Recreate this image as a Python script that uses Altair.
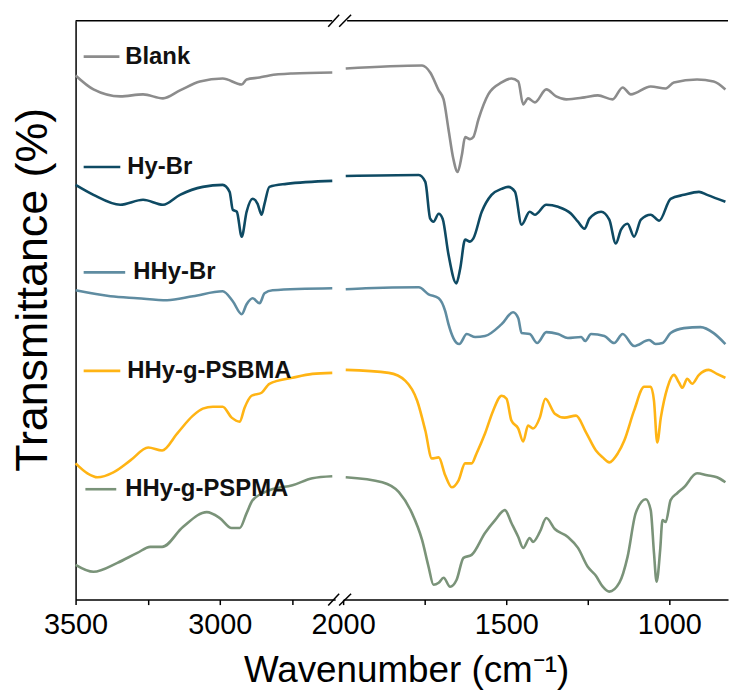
import altair as alt
import pandas as pd

# ---------------- data (wavenumber in cm-1, transmittance in offset arbitrary units) -------------
names = ["Blank", "Hy-Br", "HHy-Br", "HHy-g-PSBMA", "HHy-g-PSPMA"]
colors = ["#8c8c8c", "#0e4a63", "#5f8ca1", "#ffb414", "#7a9379"]

# high wavenumber region (3500 - 2600)
blank_hi_wn = [3500, 3438, 3345, 3266, 3197, 3138, 3069, 2990, 2924, 2907, 2862, 2828, 2748, 2610]
blank_hi_t = [527, 513, 506, 508, 504, 512, 521, 524, 518, 523, 525, 527, 529, 530]

hybr_hi_wn = [3500, 3438, 3345, 3266, 3197, 3138, 3059, 2990, 2966, 2955, 2941, 2924, 2907, 2886,
              2869, 2855, 2845, 2828, 2769, 2610]
hybr_hi_t = [417, 407, 397, 402, 397, 407, 415, 417, 410, 392, 390, 365, 390, 403, 398, 387, 398,
             415, 418, 421]

hhybr_hi_wn = [3500, 3379, 3286, 3183, 3093, 2990, 2955, 2924, 2907, 2886, 2862, 2845, 2817, 2610]
hhybr_hi_t = [311, 305, 303, 301, 305, 310, 300, 287, 297, 303, 298, 308, 311, 313]

psbma_hi_wn = [3500, 3459, 3424, 3369, 3310, 3248, 3200, 3148, 3093, 3059, 3024, 2990, 2959, 2931,
               2914, 2890, 2855, 2828, 2748, 2679, 2610]
psbma_hi_t = [137, 127, 123, 128, 140, 153, 150, 167, 185, 192, 194, 194, 183, 179, 193, 205, 208,
              217, 223, 227, 228]

pspma_hi_wn = [3500, 3438, 3355, 3286, 3241, 3200, 3128, 3045, 3000, 2959, 2931, 2907, 2886, 2828,
               2748, 2679, 2610]
pspma_hi_t = [35, 28, 37, 47, 53, 53, 73, 88, 82, 72, 72, 87, 100, 110, 115, 122, 124]

# low wavenumber region (2000 - 820)
blank_lo_wn = [1992, 1758, 1733, 1707, 1692, 1677, 1662, 1649, 1636, 1626, 1611, 1601, 1585, 1555,
               1514, 1484, 1463, 1448, 1433, 1412, 1377, 1347, 1316, 1260, 1219, 1174, 1143, 1118,
               1057, 1011, 986, 915, 864, 828]
blank_lo_t = [534, 537, 530, 512, 503, 473, 443, 430, 447, 465, 463, 465, 483, 508, 520, 524, 521,
              498, 504, 500, 513, 506, 503, 505, 507, 503, 515, 508, 516, 514, 520, 523, 521, 513]

hybr_lo_wn = [1992, 1768, 1748, 1733, 1723, 1707, 1695, 1677, 1653, 1641, 1626, 1611, 1601, 1575,
              1545, 1514, 1494, 1473, 1453, 1428, 1412, 1377, 1341, 1301, 1280, 1260, 1245, 1209,
              1184, 1164, 1148, 1128, 1108, 1087, 1057, 1031, 996, 955, 909, 884, 828]
hybr_lo_t = [426, 427, 420, 383, 380, 388, 383, 347, 318, 333, 362, 360, 363, 390, 407, 413, 415,
             410, 377, 390, 387, 397, 395, 388, 380, 373, 383, 390, 382, 358, 372, 378, 365, 382,
             387, 381, 403, 407, 410, 407, 400]

hhybr_lo_wn = [1992, 1931, 1768, 1738, 1707, 1687, 1677, 1662, 1644, 1621, 1595, 1565, 1514, 1479,
               1463, 1453, 1428, 1405, 1377, 1341, 1311, 1270, 1258, 1240, 1199, 1169, 1143, 1108,
               1062, 1042, 1021, 996, 955, 904, 864, 828]
hhybr_lo_t = [312, 313, 314, 307, 303, 290, 277, 263, 257, 267, 264, 265, 277, 289, 283, 268, 267,
              258, 269, 267, 263, 264, 260, 267, 265, 258, 267, 255, 261, 257, 258, 268, 273, 274,
              268, 257]

psbma_lo_wn = [1992, 1860, 1809, 1773, 1748, 1728, 1707, 1687, 1667, 1646, 1626, 1606, 1591, 1565,
               1540, 1514, 1499, 1484, 1463, 1448, 1433, 1418, 1397, 1380, 1351, 1321, 1286, 1255,
               1225, 1204, 1184, 1158, 1138, 1108, 1077, 1057, 1047, 1037, 1026, 1006, 986, 970,
               960, 945, 930, 909, 879, 854, 828]
psbma_lo_t = [231, 228, 220, 200, 170, 142, 143, 125, 113, 120, 137, 137, 147, 167, 190, 205, 202,
              180, 172, 159, 175, 172, 183, 202, 187, 183, 185, 168, 150, 143, 138, 147, 160, 190,
              214, 214, 200, 158, 183, 213, 226, 218, 213, 222, 217, 226, 231, 227, 223]

pspma_lo_wn = [1992, 1880, 1829, 1789, 1758, 1738, 1723, 1707, 1692, 1672, 1652, 1631, 1606, 1565,
               1534, 1504, 1484, 1463, 1448, 1428, 1418, 1397, 1377, 1351, 1311, 1280, 1250, 1225,
               1204, 1184, 1153, 1128, 1103, 1072, 1057, 1047, 1039, 1028, 1021, 1011, 996, 976,
               955, 915, 884, 854, 828]
pspma_lo_t = [123, 118, 108, 87, 60, 33, 15, 17, 22, 13, 20, 42, 45, 67, 80, 90, 77, 63, 52, 62, 58,
              68, 82, 71, 63, 52, 33, 24, 13, 8, 17, 43, 87, 101, 90, 47, 18, 50, 80, 78, 100, 107,
              113, 127, 125, 123, 118]

# in-plot legend labels: sample line start/end, text start (wavenumber) and level
label_line_start = [3472, 3472, 3472, 3472, 3466]
label_line_end = [3348, 3345, 3328, 3345, 3359]
label_text_wn = [3328, 3321, 3300, 3321, 3328]
label_level = [546, 435, 329, 230, 111]

# axis ticks
left_ticks = [3500, 3250, 3000, 2750]
right_ticks = [2000, 1750, 1500, 1250, 1000]

# ---------------- build tables -------------
hi = [(blank_hi_wn, blank_hi_t), (hybr_hi_wn, hybr_hi_t), (hhybr_hi_wn, hhybr_hi_t),
      (psbma_hi_wn, psbma_hi_t), (pspma_hi_wn, pspma_hi_t)]
lo = [(blank_lo_wn, blank_lo_t), (hybr_lo_wn, hybr_lo_t), (hhybr_lo_wn, hhybr_lo_t),
      (psbma_lo_wn, psbma_lo_t), (pspma_lo_wn, pspma_lo_t)]


def to_df(pairs):
    rows = []
    for name, (w, t) in zip(names, pairs):
        for i, (a, b) in enumerate(zip(w, t)):
            rows.append({"series": name, "wn": a, "t": b, "i": i})
    return pd.DataFrame(rows)


df_hi = to_df(hi)
df_lo = to_df(lo)
df_lab = pd.DataFrame({"series": names, "x1": label_line_start, "x2": label_line_end,
                       "xt": label_text_wn, "t": label_level})

FONT = "Liberation Sans"
W_L, W_R, H = 261, 387, 582
YDOM = [0, 582]
color = alt.Color("series:N", scale=alt.Scale(domain=names, range=colors), legend=None)
yscale = alt.Scale(domain=YDOM, nice=False, zero=False)
xl_scale = alt.Scale(domain=[3500, 2600], nice=False, zero=False)
xr_scale = alt.Scale(domain=[2000, 820], nice=False, zero=False)

lab_expr = "datum.value % 500 == 0 ? datum.value : ''"
axis_style = dict(labelExpr=lab_expr, title=None, grid=False, labelFlush=False, tickSize=5,
                  labelPadding=6, labelFont=FONT, labelFontSize=29, labelColor="black",
                  domainColor="black", domainWidth=1.5, tickColor="black", tickWidth=1.5)

x_left = alt.X("wn:Q", scale=xl_scale, axis=alt.Axis(values=left_ticks, **axis_style))
x_right = alt.X("wn:Q", scale=xr_scale, axis=alt.Axis(values=right_ticks, **axis_style))

one = pd.DataFrame({"a": [0]})
noframe = alt.ViewBackground(stroke="transparent", strokeWidth=0)

left_lines = alt.Chart(df_hi).mark_line(strokeWidth=2.6, interpolate="monotone").encode(
    x=x_left,
    y=alt.Y("t:Q", scale=yscale,
            axis=alt.Axis(labels=False, ticks=False, grid=False, title="Transmittance (%)",
                          domainColor="black", domainWidth=1.5,
                          titleFontSize=45, titleFont=FONT, titleFontWeight="normal",
                          titleColor="black",
                          titleX=-29, titleY=270, titleBaseline="alphabetic", titleAngle=270)),
    color=color, detail="series:N", order="i:Q")

lab_lines = alt.Chart(df_lab).mark_rule(strokeWidth=2.6).encode(
    x=alt.X("x1:Q", scale=xl_scale), x2="x2:Q", y=alt.Y("t:Q", scale=yscale), color=color)
lab_text = alt.Chart(df_lab).mark_text(align="left", baseline="middle", font=FONT,
                                       fontWeight="bold", fontSize=24, color="#111111").encode(
    x=alt.X("xt:Q", scale=xl_scale), y=alt.Y("t:Q", scale=yscale), text="series:N")

top_l = alt.Chart(one).mark_rule(color="black", strokeWidth=1.5).encode(
    x=alt.value(0), x2=alt.value(W_L - 3), y=alt.value(0))
brk = []
for (xa, xb) in [(W_L - 7, W_L + 4), (W_L + 4, W_L + 16)]:
    for (ya, yb) in [(6, -6), (H + 6, H - 6)]:
        brk.append(alt.Chart(one).mark_rule(color="black", strokeWidth=1.5).encode(
            x=alt.value(xa), x2=alt.value(xb), y=alt.value(ya), y2=alt.value(yb)))

left = alt.layer(left_lines, lab_lines, lab_text, top_l, *brk).properties(
    width=W_L, height=H, view=noframe)

right_lines = alt.Chart(df_lo).mark_line(strokeWidth=2.6, interpolate="monotone").encode(
    x=x_right, y=alt.Y("t:Q", scale=yscale, axis=None),
    color=color, detail="series:N", order="i:Q")
top_r = alt.Chart(one).mark_rule(color="black", strokeWidth=1.5).encode(
    x=alt.value(4), x2=alt.value(W_R), y=alt.value(0))
right = alt.layer(right_lines, top_r).properties(width=W_R, height=H, view=noframe)

chart = alt.hconcat(left, right, spacing=8, bounds="flush").properties(
    padding={"left": 10, "top": 12, "right": 0, "bottom": 5},
    background="white",
    title=alt.TitleParams("Wavenumber (cm⁻¹)", orient="bottom", anchor="middle", fontSize=37,
                          font=FONT, fontWeight="normal", color="black", offset=14, dx=36),
).configure_view(strokeWidth=0, stroke="transparent")

chart.save("out.html", embed_options={"renderer": "svg", "actions": False})
